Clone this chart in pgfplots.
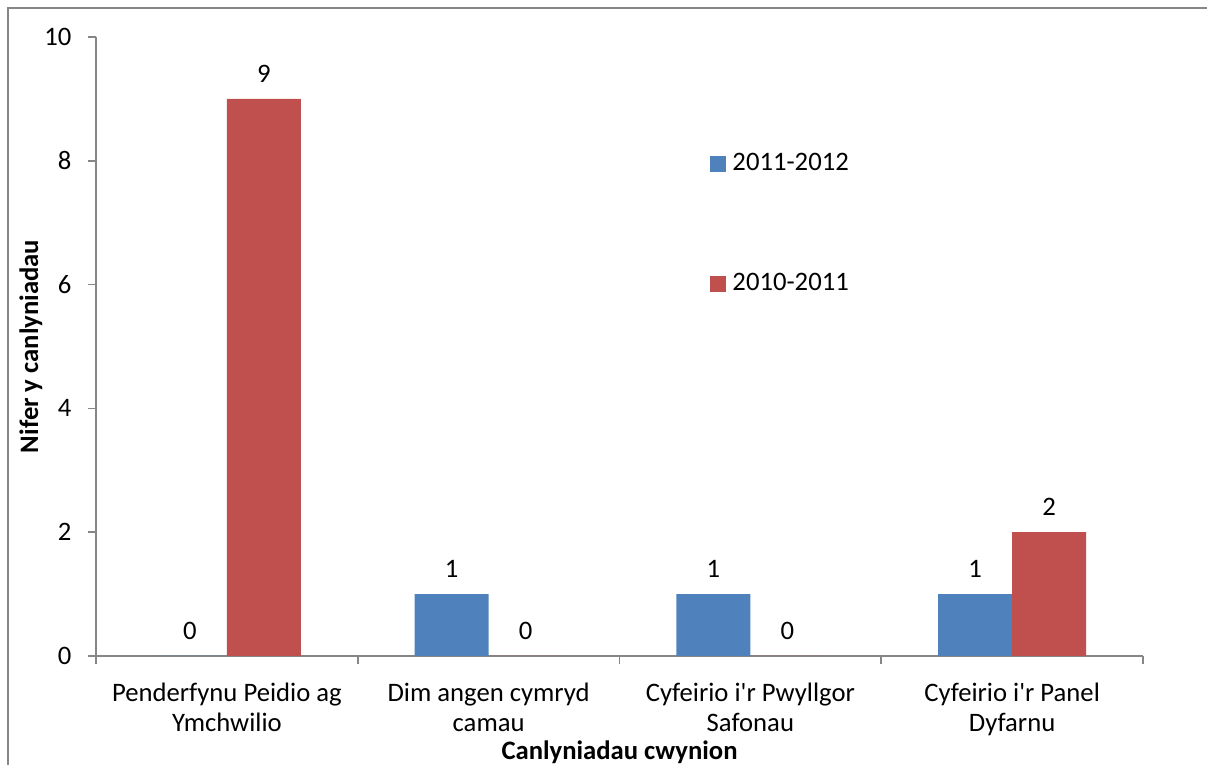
\documentclass[border=0pt]{standalone}
\usepackage{fontspec}
\setmainfont{Carlito}[Ligatures=TeXOff]
\usepackage{pgfplots}
\pgfplotsset{compat=1.18}
\definecolor{serA}{HTML}{4F81BD}
\definecolor{serB}{HTML}{C0504D}
\definecolor{axgray}{HTML}{868686}

\begin{document}
\fontsize{10}{11.25}\selectfont
\begin{tikzpicture}[x=0.375pt,y=0.375pt,font=\fontsize{10}{11.25}\selectfont]
\useasboundingbox (0,0) rectangle (1207,765);
% chart frame (only left and top edges are inside the picture)
\draw[axgray, line width=0.75pt] (8,-20) -- (8,757) -- (1230,757);
\begin{axis}[
    at={(36pt,40.875pt)}, anchor=south west,
    width=392.625pt, height=232.125pt, scale only axis,
    xmin=-0.5, xmax=3.5, ymin=0, ymax=10,
    axis x line*=bottom, axis y line*=left,
    axis line style={axgray, line width=0.6pt},
    ytick={0,2,...,10},
    xtick={0,1,2,3},
    xticklabels={{Penderfynu Peidio ag\\Ymchwilio},{Dim angen cymryd\\camau},{Cyfeirio i'r Pwyllgor\\Safonau},{Cyfeirio i'r Panel\\Dyfarnu}},
    minor xtick={-0.5,0.5,1.5,2.5,3.5},
    tick align=outside,
    major tick length=3pt, minor tick length=3pt,
    tick style={axgray, line width=0.6pt},
    major x tick style={draw=none},
    xticklabel style={align=center, anchor=north, inner sep=0pt, yshift=-6.75pt},
    yticklabel style={anchor=east, inner sep=0pt, xshift=-6pt},
    /pgf/number format/assume math mode=true,
    ybar, bar width=0.2827,
    nodes near coords,
    nodes near coords style={anchor=center, inner sep=0pt, yshift=9.5pt, text=black},
    xlabel={\textbf{Canlyniadau cwynion}},
    ylabel={\textbf{Nifer y canlyniadau}},
    xlabel style={at={(axis description cs:0.5,-0.1551)}, anchor=center},
    ylabel style={at={(axis description cs:-0.0621,0.5)}, anchor=center},
    legend style={at={(rel axis cs:0.5864,0.8131)}, anchor=north west,
        draw=none, fill=none, inner sep=0pt, row sep=37.1pt, column sep=2.25pt,
        nodes={inner sep=0pt}},
    legend cell align=left,
]
\addplot[fill=serA, draw=none, bar shift=-0.1414,
    legend image code/.code={\fill[serA] (0pt,-3pt) rectangle (6pt,3pt);}]
    coordinates {(0,0) (1,1) (2,1) (3,1)};
\addplot[fill=serB, draw=none, bar shift=0.1414,
    legend image code/.code={\fill[serB] (0pt,-3pt) rectangle (6pt,3pt);}]
    coordinates {(0,9) (1,0) (2,0) (3,2)};
\legend{2011-2012, 2010-2011}
\end{axis}
\end{tikzpicture}
\end{document}
